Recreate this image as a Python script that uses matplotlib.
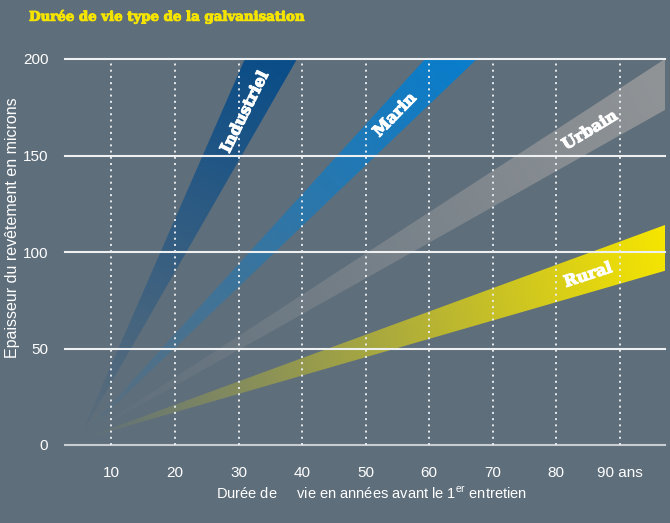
import numpy as np
import matplotlib
matplotlib.use("Agg")
import matplotlib.pyplot as plt
from matplotlib.patches import Polygon
from matplotlib import font_manager as fm
import matplotlib.patheffects as pe

# ---------------- data ----------------
band_names = ["Industriel", "Marin", "Urbain", "Rural"]
rate_max = [7.54, 3.62, 2.14, 1.208]     # microns / year (upper edge)
rate_min = [5.74, 3.15, 1.854, 0.951]    # microns / year (lower edge)
band_colors = ["#0a4d88", "#0a7dcb", "#9a9b9c", "#f7e600"]
band_alpha_max = [1.0, 1.0, 0.85, 1.0]
origin_x, origin_y = 4.8, 2.5
label_pos = [(31.0, 172.5), (54.6, 171.0), (85.3, 163.0), (85.0, 88.0)]

x_ticks = [10, 20, 30, 40, 50, 60, 70, 80, 90]
x_tick_labels = ["10", "20", "30", "40", "50", "60", "70", "80", "90 ans"]
y_ticks = [0, 50, 100, 150, 200]
y_tick_labels = ["0", "50", "100", "150", "200"]
x_lim = (2.7, 97.1)
y_lim = (0, 200)

title = "Durée de vie type de la galvanisation"
ylabel = "Epaisseur du revêtement en microns"

BG = "#5e6e7b"
names = {f.name for f in fm.fontManager.ttflist}
sans = "Liberation Sans Narrow" if "Liberation Sans Narrow" in names else "Liberation Sans"
plt.rcParams["font.family"] = [sans, "DejaVu Sans"]
plt.rcParams["mathtext.fontset"] = "custom"
plt.rcParams["mathtext.rm"] = sans

fig = plt.figure(figsize=(6.7, 5.23), dpi=100, facecolor=BG)
W, H = 670, 523
ax = fig.add_axes([65 / W, (H - 445) / H, 600 / W, 386 / H])
ax.set_facecolor(BG)
ax.set_xlim(*x_lim)
ax.set_ylim(*y_lim)
for s in ax.spines.values():
    s.set_visible(False)

# ---------------- gradient bands ----------------
nx, ny = 700, 450
xs = np.linspace(x_lim[0], x_lim[1], nx)
ys = np.linspace(y_lim[0], y_lim[1], ny)
XX, YY = np.meshgrid(xs, ys)
px_per_x = 600 / (x_lim[1] - x_lim[0])
px_per_y = 386 / (y_lim[1] - y_lim[0])
U = (XX - origin_x) * px_per_x
V = (YY - origin_y) * px_per_y
D = np.sqrt(U ** 2 + V ** 2)

for i, name in enumerate(band_names):
    smax, smin = rate_max[i], rate_min[i]
    big = 1000.0
    poly = Polygon([(origin_x, origin_y),
                    (origin_x + big / smax, origin_y + big),
                    (origin_x + big / smin, origin_y + big)],
                   closed=True, transform=ax.transData, facecolor="none", edgecolor="none")
    ax.add_patch(poly)
    sm = 0.5 * (smax + smin)
    x_end = min(x_lim[1], origin_x + (y_lim[1] - origin_y) / sm)
    y_end = origin_y + sm * (x_end - origin_x)
    dmax = np.hypot((x_end - origin_x) * px_per_x, (y_end - origin_y) * px_per_y)
    t = np.clip(D / dmax, 0, 1) ** 1.05 * band_alpha_max[i]
    rgba = np.zeros((ny, nx, 4))
    rgba[..., :3] = matplotlib.colors.to_rgb(band_colors[i])
    rgba[..., 3] = t
    im = ax.imshow(rgba, extent=[x_lim[0], x_lim[1], y_lim[0], y_lim[1]],
                   origin="lower", aspect="auto", zorder=1, interpolation="bilinear")
    im.set_clip_path(poly)

# ---------------- grid ----------------
for yv in y_ticks:
    ax.axhline(yv, color="#c9cdd1" if yv == 0 else "#eef0f2", lw=1.5, zorder=2, clip_on=False)
for xv in x_ticks:
    ax.plot([xv, xv], [0, 200], color="#e8ecef", lw=1.4, ls=(0, (1, 2.2)), zorder=2, clip_on=False)

# ---------------- ticks ----------------
ax.set_xticks(x_ticks)
ax.set_xticklabels(x_tick_labels)
ax.set_yticks(y_ticks)
ax.set_yticklabels(y_tick_labels)
ax.tick_params(axis="both", length=0, colors="white", labelsize=11)
ax.tick_params(axis="x", pad=15)
ax.tick_params(axis="y", pad=12)

# ---------------- band labels ----------------
for i, name in enumerate(band_names):
    sm = 0.5 * (rate_max[i] + rate_min[i])
    ang = np.degrees(np.arctan(sm))
    ax.text(label_pos[i][0], label_pos[i][1], name, color="white", fontsize=11.5,
            fontweight="bold", family="DejaVu Serif", rotation=ang,
            transform_rotates_text=True, rotation_mode="anchor",
            ha="center", va="center", zorder=3,
            path_effects=[pe.withStroke(linewidth=0.8, foreground="white")])

# ---------------- texts ----------------
fig.text(29 / W, 1 - 17 / H, title, color="#f5e400", fontsize=9.6, fontweight="bold",
         family="DejaVu Serif", ha="left", va="center",
         path_effects=[pe.withStroke(linewidth=0.7, foreground="#f5e400")])
fig.text(13 / W, 1 - 228 / H, ylabel, color="white", fontsize=11.5, rotation=90,
         ha="center", va="center")
fig.text(371 / W, 1 - 494 / H, "Durée de     vie en années avant le 1$^{\\mathrm{er}}$ entretien",
         color="white", fontsize=10.5, ha="center", va="center")

fig.savefig("out.png", dpi=100, facecolor=BG)
